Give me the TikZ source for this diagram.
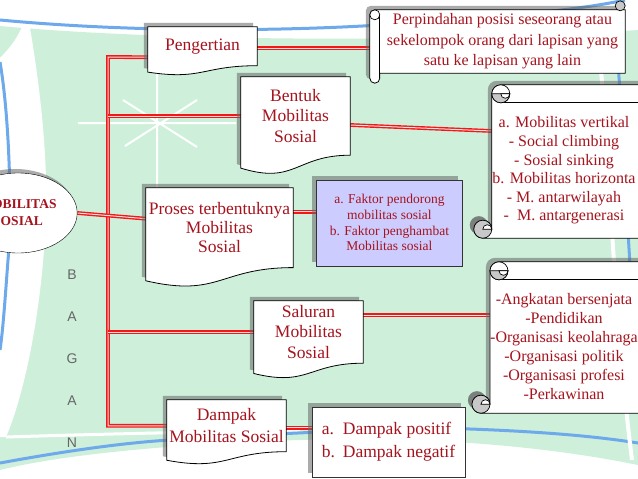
\documentclass[tikz,border=0pt]{standalone}
\usepackage{fontspec}
\setmainfont{Liberation Serif}
\newfontfamily\baganfont{Liberation Sans}
\usepackage{xcolor}
\usepackage{tikz}
\usetikzlibrary{shapes.geometric, arrows.meta, positioning, calc, shadows}

\definecolor{textred}{RGB}{165,20,30}
\definecolor{bggreen}{RGB}{206,240,218}
\definecolor{bgblue}{RGB}{110,170,235}
\definecolor{linkred}{RGB}{240,25,25}
\definecolor{boxlilac}{RGB}{204,204,255}
\definecolor{curlgray}{RGB}{200,200,200}

\pgfdeclarelayer{bg}
\pgfdeclarelayer{frames}
\pgfsetlayers{bg,frames,main}

% document outline round a text node
\newcommand{\docframe}[1]{%
  \draw[docline] (#1.north west) -- (#1.north east) -- (#1.south east)
    .. controls (#1.south) and ($(#1.north)!1.38!(#1.south)$)
    .. ($(#1.north west)!1.165!(#1.south west)$) -- cycle;}

% horizontal scroll round a text node
\newcommand{\hscroll}[1]{%
  \draw[docline] ($(#1.north west)+(0,-9)$) -- ($(#1.south west)+(0,-9)$)
    arc[start angle=360, end angle=90, radius=9]
    -- ($(#1.south east)+(20,0)$) -- ($(#1.north east)+(20,-18)$)
    -- ($(#1.north west)+(9,-18)$) arc[start angle=270, end angle=180, radius=9] -- cycle;
  \draw[curl] ($(#1.north west)+(9,0)$) -- ($(#1.north east)+(20,0)$);
  \draw[curl, fill=white] ($(#1.north west)+(9,-9)$) circle[radius=9];
  \draw[curl, fill=curlgray] ($(#1.north west)+(0,-9)$) arc[start angle=180, end angle=0, radius=9] -- cycle;
  \draw[curl, fill=white] ($(#1.north west)+(9,-9)$) arc[start angle=180, end angle=0, radius=4.5] -- cycle;
  \draw[curl, fill=curlgray, drop shadow={shadow xshift=-4pt, shadow yshift=4pt, opacity=.55, fill=black!60}]
    ($(#1.south west)+(-9,-9)$) circle[radius=9];
  \draw[curl, fill=white] ($(#1.south west)+(-9,-9)$) arc[start angle=180, end angle=360, radius=4.5] -- cycle;}

\begin{document}
\begin{tikzpicture}[
    x=1pt, y=-1pt,
    doc/.style={align=center, text=textred, inner sep=0pt, font={\fontsize{17.5}{20.5}\selectfont}},
    scrolltext/.style={align=center, text=textred, inner sep=0pt, font={\fontsize{16}{18.6}\selectfont}},
    docline/.style={draw=black, line width=0.8pt, fill=white,
      drop shadow={shadow xshift=-4pt, shadow yshift=4pt, opacity=.55, fill=black!60}},
    curl/.style={draw=black, line width=0.7pt},
    link/.style={draw=linkred, line width=1.4pt, double=red!12, double distance=1pt},
    bagan/.style={text=black!60, font={\baganfont\fontsize{14}{14}\selectfont}},
]
    \useasboundingbox (0,0) rectangle (638,479);

    % Background
    \begin{pgfonlayer}{bg}
      \fill[white] (0,0) rectangle (638,479);
      \fill[bggreen] (0,26) .. controls (150,40) and (420,44) .. (638,30) -- (638,465)
        .. controls (540,445) and (420,436) .. (300,440) .. controls (170,444) and (60,455) .. (0,470) -- cycle;
      \fill[white] (0,58) .. controls (12,46) and (18,36) .. (22,27) -- (30,28)
        .. controls (44,110) and (50,190) .. (44,250) .. controls (38,330) and (22,400) .. (6,437) -- (0,437) -- cycle;
      \draw[bgblue, line width=3pt] (0,62) .. controls (10,120) and (12,220) .. (8,260) .. controls (5,300) and (3,330) .. (0,350);
      \draw[bgblue, line width=3pt] (0,20) .. controls (150,34) and (300,30) .. (380,25) .. controls (480,18) and (570,12) .. (625,0);
      \draw[white, line width=3pt] (6,437) .. controls (100,434) and (200,432) .. (300,430);
      \draw[bgblue, line width=3pt] (0,463) .. controls (60,452) and (120,443) .. (170,440)
        .. controls (300,432) and (400,428) .. (470,429) .. controls (550,432) and (600,437) .. (638,443);
      \draw[white, line width=4pt] (598,40) .. controls (610,150) and (612,300) .. (632,460);
      \draw[bgblue, line width=3pt] (616,40) .. controls (626,150) and (628,300) .. (645,440);
      \draw[white, line width=2pt] (78,123) -- (236,123) (157,68) -- (157,190)
        (123,100) -- (197,147) (125,146) -- (197,100);
    \end{pgfonlayer}

    % Central ellipse
    \node[ellipse, draw, fill=white, minimum width=118pt, minimum height=80pt, text=textred,
      align=center, font={\fontsize{13.5}{17}\selectfont\bfseries},
      drop shadow={shadow xshift=-3pt, shadow yshift=4pt, opacity=.55, fill=black!60}]
      (core) at (18,213) {MOBILITAS\\SOSIAL};

    % Documents
    \node[doc, minimum width=109pt, minimum height=38.5pt] (peng) at (202.5,46.25) {Pengertian};
    \node[doc, minimum width=109pt, minimum height=78pt] (bentuk) at (295.5,116) {Bentuk\\Mobilitas\\Sosial};
    \node[doc, minimum width=147pt, minimum height=79.4pt, font={\fontsize{17.5}{19}\selectfont}]
      (proses) at (219.5,227.7) {Proses terbentuknya\\Mobilitas\\Sosial};
    \node[doc, minimum width=109pt, minimum height=62pt] (saluran) at (308.5,332) {Saluran\\Mobilitas\\Sosial};
    \node[doc, minimum width=119pt, minimum height=51.5pt, font={\fontsize{17.5}{22}\selectfont}]
      (dampak) at (226.5,425.75) {Dampak\\Mobilitas Sosial};

    % Scrolls
    \node[scrolltext, minimum width=245pt, minimum height=63pt, font={\fontsize{16}{20.5}\selectfont}]
      (defn) at (502.5,41.5) {Perpindahan posisi seseorang atau\\sekelompok orang dari lapisan yang\\satu ke lapisan yang lain};
    \node[scrolltext, minimum width=144pt, minimum height=135pt] (vert) at (564,170.5)
      {a. Mobilitas vertikal\\- Social climbing\\- Sosial sinking\\b. Mobilitas horizonta\\- M. antarwilayah\\-\ \ M. antargenerasi};
    \node[scrolltext, minimum width=144pt, minimum height=133pt, font={\fontsize{16}{19}\selectfont}] (channel) at (564,346.5)
      {-Angkatan bersenjata\\-Pendidikan\hspace*{48pt}\\-Organisasi keolahraga\\-Organisasi politik\\-Organisasi profesi\\-Perkawinan};

    % Boxes
    \node[draw=black!80, fill=boxlilac, minimum width=146pt, minimum height=86pt, inner sep=0pt,
      align=center, text=textred, font={\fontsize{13.5}{15.6}\selectfont},
      drop shadow={shadow xshift=-4pt, shadow yshift=4pt, opacity=.55, fill=black!60},
      right=23pt of proses, yshift=5pt]
      (factor) {a. Faktor pendorong\\mobilitas sosial\\b. Faktor penghambat\\Mobilitas sosial};
    \node[draw=black!80, fill=white, minimum width=153pt, minimum height=70pt, inner sep=0pt,
      align=left, text=textred, font={\fontsize{17.5}{23}\selectfont},
      drop shadow={shadow xshift=-4pt, shadow yshift=4pt, opacity=.55, fill=black!60}]
      (effect) at (388.5,442) {\makebox[21pt][l]{a.}Dampak positif\\\makebox[21pt][l]{b.}Dampak negatif};

    % BAGAN
    \foreach \ch [count=\i] in {B,A,G,A,N}
      \node[bagan] (bagan\i) at (72,233+42*\i) {\ch};

    % Connectors
    \coordinate (trunktop) at (108,57);
    \begin{pgfonlayer}{frames}
      \draw[link] ([yshift=-11pt]peng.west) -- (trunktop) |- (dampak.west);
      \draw[link] (trunktop |- bentuk.west) -- (bentuk.west);
      \draw[link] (trunktop |- saluran.west) -- (saluran.west);
      \draw[link] (core.east) -- ([yshift=9pt]proses.west);
      \draw[link] ([yshift=-2pt]peng.east) -- ([yshift=-2pt]peng.east -| defn.west);
      \draw[link] ([yshift=-9pt]bentuk.east) -- ($(vert.west)+(0,-39.5)$);
      \draw[link] ([yshift=16pt]proses.east) -- ([yshift=16pt]proses.east -| factor.west);
      \draw[link] ([yshift=17pt]saluran.east) -- ([yshift=17pt]saluran.east -| channel.west);
      \draw[link] ([yshift=-2pt]dampak.east) -- ([yshift=-2pt]dampak.east -| effect.west);

      % Outlines
      \docframe{peng}
      \docframe{bentuk}
      \docframe{proses}
      \docframe{saluran}
      \docframe{dampak}
      \hscroll{vert}
      \hscroll{channel}
      \draw[docline] ($(defn.north west)+(-10,5)$) -- ($(defn.south west)+(-10,5)$)
        arc[start angle=180, end angle=0, radius=5] -- (defn.south west) -- (defn.south east)
        -- (defn.north east) -- ($(defn.north west)+(-5,0)$) arc[start angle=270, end angle=180, radius=5] -- cycle;
      \draw[curl] ($(defn.north west)+(0,5)$) -- ($(defn.south west)+(0,5)$);
      \draw[curl, fill=white] ($(defn.north west)+(-5,5)$) circle[radius=5];
      \draw[curl, fill=curlgray] ($(defn.north east)+(-5,-4)$) circle[radius=5];
    \end{pgfonlayer}

\end{tikzpicture}
\end{document}
